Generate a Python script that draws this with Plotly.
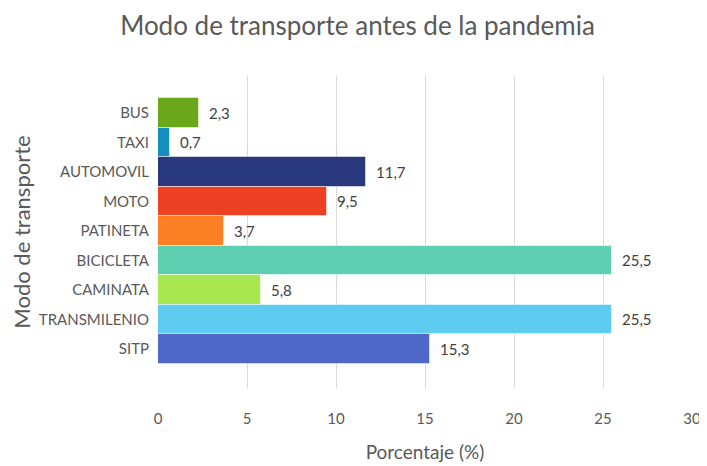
import plotly.graph_objects as go

categories = ["BUS", "TAXI", "AUTOMOVIL", "MOTO", "PATINETA", "BICICLETA", "CAMINATA", "TRANSMILENIO", "SITP"]
values = [2.3, 0.7, 11.7, 9.5, 3.7, 25.5, 5.8, 25.5, 15.3]
labels = ["2,3", "0,7", "11,7", "9,5", "3,7", "25,5", "5,8", "25,5", "15,3"]
colors = ["#6aa719", "#1390c0", "#27387d", "#ee4124", "#fd7f24", "#5ecfb1", "#a8e650", "#5ecbf0", "#4f67c6"]
x_ticks = [0, 5, 10, 15, 20, 25, 30]

FONT = "Lato"

fig = go.Figure(go.Bar(
    y=categories, x=values, orientation="h",
    marker=dict(color=colors, line=dict(color="rgba(255,255,255,0.5)", width=1)),
    text=["\u2002" + t for t in labels], textposition="outside", cliponaxis=False,
    textfont=dict(family=FONT, size=15, color="#404040"),
))

fig.update_layout(
    width=699, height=458,
    margin=dict(l=150, r=15, t=68, b=78),
    paper_bgcolor="white", plot_bgcolor="white",
    bargap=0,
    showlegend=False,
    title=dict(text="Modo de transporte antes de la pandemia", x=0.5, xanchor="center",
               y=0.962, yanchor="middle",
               font=dict(family=FONT, size=26, color="#595959")),
    xaxis=dict(range=[0, 30], tickvals=x_ticks, showgrid=True, gridcolor="#d9d9d9", gridwidth=1,
               zeroline=False, showline=False, ticks="", automargin=False,
               tickfont=dict(family=FONT, size=15, color="#595959"), ticklabelstandoff=20,
               title=dict(text="Porcentaje (%)", font=dict(family=FONT, size=19, color="#595959"), standoff=19)),
    yaxis=dict(type="category", categoryorder="array", categoryarray=categories,
               range=[9.32, -1.25], showgrid=False, zeroline=False, showline=False, ticks="",
               automargin=False,
               tickfont=dict(family=FONT, size=15, color="#595959"), ticklabelstandoff=8,
               title=dict(text="Modo de transporte", font=dict(family=FONT, size=22, color="#595959"), standoff=5)),
)

fig.write_html("out.html")
